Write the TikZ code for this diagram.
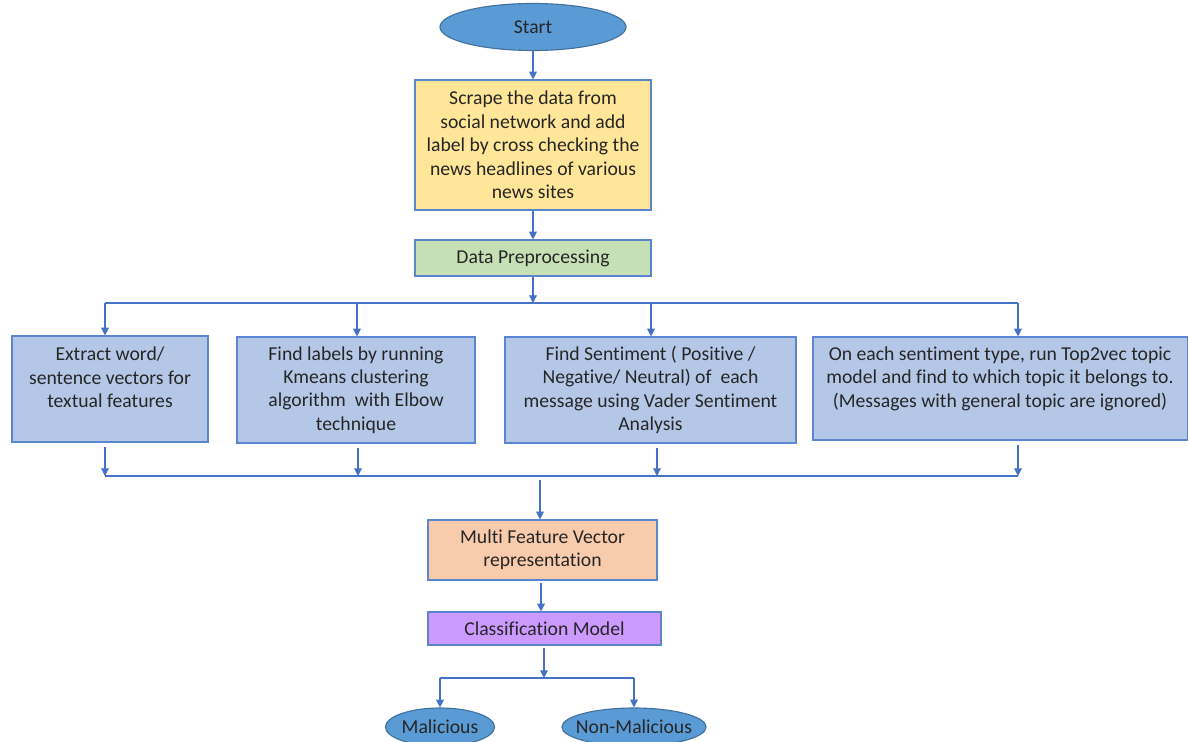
\documentclass[tikz,border=0pt]{standalone}
\usepackage{fontspec}
\setmainfont{Carlito}[Ligatures=NoCommon]
\usetikzlibrary{positioning,arrows.meta,shapes.geometric}

\definecolor{ellfill}{HTML}{5B9BD5}
\definecolor{elldraw}{HTML}{41719C}
\definecolor{boxdraw}{HTML}{5B86CF}
\definecolor{arrblue}{HTML}{4472C4}
\definecolor{scrapefill}{HTML}{FFE699}
\definecolor{prepfill}{HTML}{C5E0B4}
\definecolor{featfill}{HTML}{B4C7E7}
\definecolor{mfvfill}{HTML}{F8CBAD}
\definecolor{clffill}{HTML}{CC99FF}

\begin{document}
\begin{tikzpicture}[
  x=0.025cm, y=-0.025cm,
  font=\fontsize{14}{16.7}\selectfont,
  termv/.style={ellipse, draw=elldraw, line width=0.8pt, fill=ellfill, inner xsep=-5pt, inner ysep=0pt, text=black!85},
  procbox/.style={rectangle, draw=boxdraw, line width=0.8pt, align=center, inner sep=2pt, text=black!85},
  featbox/.style={procbox, fill=featfill, minimum height=2.65cm},
  flow/.style={draw=arrblue, line width=0.8pt, -{Triangle[length=5.5pt,width=5.5pt]}},
  link/.style={draw=arrblue, line width=0.8pt}
]
\path[use as bounding box, fill=white] (0,0) rectangle (1189,742);

\node[termv, minimum width=4.65cm, minimum height=1.175cm] (start) at (533,27) {Start};
\node[procbox, fill=scrapefill, minimum width=5.9cm, minimum height=3.25cm] (scrape) at (533,145)
  {Scrape the data from\\social network and add\\label by cross checking the\\news headlines of various\\news sites};
\node[procbox, fill=prepfill, minimum width=5.9cm, minimum height=0.9cm] (prep) at (533,258) {Data Preprocessing};

\node[featbox, minimum width=4.9cm] (feat1) at (110,389)
  {Extract word/\\sentence vectors for\\textual features\\ \phantom{x}};
\node[featbox, minimum width=5.95cm] (feat2) at (356,390)
  {Find labels by running\\Kmeans clustering\\algorithm\ \ with Elbow\\technique};
\node[featbox, minimum width=7.275cm] (feat3) at (650.5,390)
  {Find Sentiment ( Positive /\\Negative/ Neutral) of\ \ each\\message using Vader Sentiment\\Analysis};
\node[featbox, minimum width=9.35cm, minimum height=2.575cm] (feat4) at (1000,388.5)
  {On each sentiment type, run Top2vec topic\\model and find to which topic it belongs to.\\(Messages with general topic are ignored)\\ \phantom{x}};

\node[procbox, fill=mfvfill, minimum width=5.725cm, minimum height=1.5cm] (mfv) at (542.5,550)
  {Multi Feature Vector\\representation};
\node[procbox, fill=clffill, minimum width=5.825cm, minimum height=0.825cm] (clf) at (544.5,628.5) {Classification Model};

\node[termv, minimum width=2.725cm, minimum height=0.95cm] (mal) at (440,727) {Malicious};
\node[termv, minimum width=3.575cm, minimum height=0.95cm] (nonmal) at (634,727) {Non-Malicious};

% split and merge points
\coordinate (splitT) at (533,303);
\coordinate (t1) at (105,303);
\coordinate (t2) at (357,303);
\coordinate (t3) at (651,303);
\coordinate (t4) at (1018,303);
\coordinate (b1) at (105,476);
\coordinate (b2) at (358,476);
\coordinate (b3) at (657,476);
\coordinate (b4) at (1018,476);
\coordinate (merge) at (540,476);
\coordinate (mid) at (541,600);
\coordinate (splitB) at (544,678);

\draw[flow] (start) -- (scrape);
\draw[flow] (scrape) -- (prep);
\draw[flow] (prep) -- (splitT);
\draw[link] (t1) -- (t4);
\draw[flow] (t1) -- (t1 |- feat1.north);
\draw[flow] (t2) -- (t2 |- feat2.north);
\draw[flow] (t3) -- (t3 |- feat3.north);
\draw[flow] (t4) -- (t4 |- feat4.north);

\draw[flow, shorten <=3pt] (b1 |- feat1.south) -- (b1);
\draw[flow, shorten <=3pt] (b2 |- feat2.south) -- (b2);
\draw[flow, shorten <=3pt] (b3 |- feat3.south) -- (b3);
\draw[flow, shorten <=3pt] (b4 |- feat4.south) -- (b4);
\draw[link] (b1) -- (b4);
\draw[flow, shorten <=3pt] (merge) -- (merge |- mfv.north);

\draw[flow, shorten <=2pt] (mid |- mfv.south) -- (mid |- clf.north);
\draw[flow, shorten <=2pt] (clf.south -| splitB) -- (splitB);
\draw[link] (mal |- splitB) -- (nonmal |- splitB);
\draw[flow] (mal |- splitB) -- (mal);
\draw[flow] (nonmal |- splitB) -- (nonmal);

\end{tikzpicture}
\end{document}
